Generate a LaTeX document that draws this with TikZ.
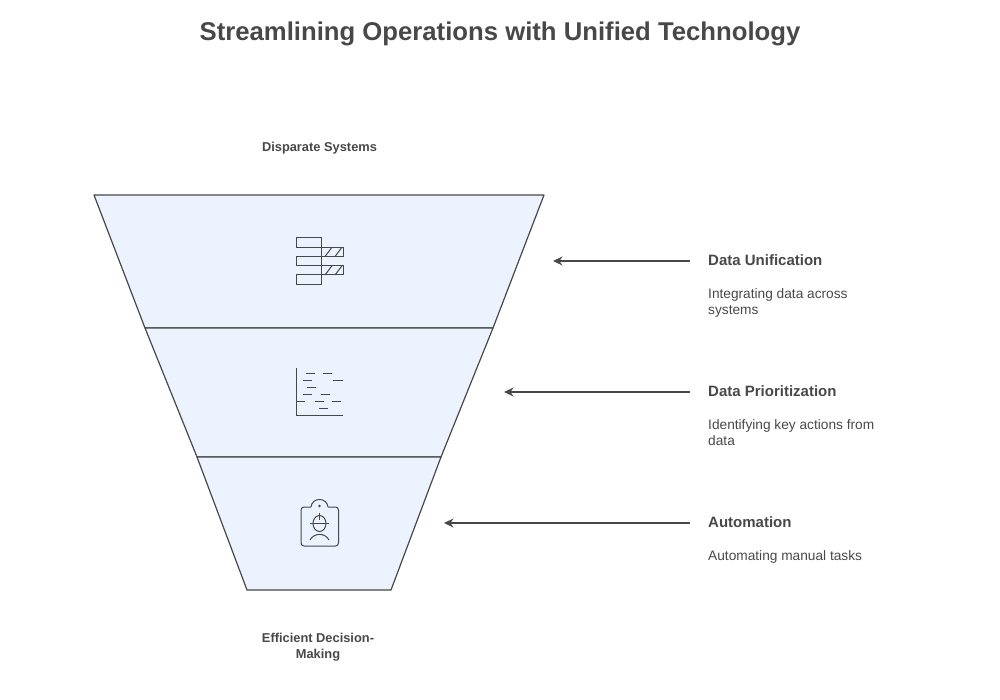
\documentclass[tikz,border=0pt]{standalone}
\usepackage{fontspec}
\setmainfont{Liberation Sans}
\usetikzlibrary{arrows.meta}
\definecolor{inkgrey}{HTML}{484848}
\definecolor{funnelblue}{HTML}{ECF3FF}
\begin{document}
\begin{tikzpicture}[
    x=1pt, y=-1pt,
    funnel part/.style={draw=inkgrey, fill=funnelblue, line width=1.2pt, line join=round},
    icon line/.style={draw=inkgrey, line width=1pt},
    pointer/.style={draw=inkgrey, line width=1.2pt, -{Stealth[length=9.5pt,width=9pt]}},
    step title/.style={anchor=west, text=inkgrey, inner sep=0pt, font=\bfseries\fontsize{15}{18}\selectfont},
    step text/.style={anchor=north west, text=inkgrey, align=left, inner sep=0pt, font=\fontsize{13.7}{16.3}\selectfont},
    end label/.style={text=inkgrey, align=center, inner sep=0pt, font=\bfseries\fontsize{12.85}{16.3}\selectfont},
]
\useasboundingbox (0,0) rectangle (1000,700);
\node[text=inkgrey, font=\bfseries\fontsize{25.7}{30}\selectfont] (title) at (500,33.5) {Streamlining Operations with Unified Technology};
\node[end label] (top label) at (319.5,148) {Disparate Systems};
\node[end label] (bottom label) at (318,647.5) {Efficient Decision-\\Making};
% funnel
\path[funnel part] (94,195) -- (544,195) -- (493,328) -- (145,328) -- cycle;
\path[funnel part] (145,328) -- (493,328) -- (441,457) -- (197,457) -- cycle;
\path[funnel part] (197,457) -- (441,457) -- (391,590) -- (247,590) -- cycle;
% first icon
\foreach \y in {238,256.5,275} \path[icon line] (296,\y) rectangle (321,\y+9.25);
\foreach \y in {247.25,265.75} {
    \path[icon line] (321,\y) rectangle (343,\y+9.25);
    \foreach \x in {325,335} \path[icon line] (\x,\y+9.25) -- (\x+7,\y);
}
% second icon
\path[icon line] (296,368) -- (296,415) -- (343,415);
\foreach \xa/\xb/\y in {305.5/315/373, 323/332/373, 303/312/380, 333/343/380, 307/316/387, 303/312/394, 321/330/394, 296/305/401.5, 315/324/401.5, 332/341/401.5, 319/328/408.5}
    \path[icon line] (\xa,\y) -- (\xb,\y);
% third icon
\path[icon line, rounded corners=3pt] (311,507) -- (301,507) -- (301,546) -- (338.5,546) -- (338.5,507) -- (328,507);
\path[icon line] (311,507) .. controls (312,497) and (327,497) .. (328,507);
\fill[inkgrey] (319.5,506) circle (1.3pt);
\path[icon line] (319.5,523.5) ellipse (6.5pt and 8pt);
\path[icon line] (310,523.5) -- (329,523.5) (319.5,513) -- (319.5,520);
\path[icon line] (310,540) .. controls (314,532.5) and (325,532.5) .. (329,540);
% steps
\node[step title] (unification) at (708,260.5) {Data Unification};
\node[step text] (unification text) at (708,288) {Integrating data across\\systems};
\node[step title] (prioritization) at (708,391.5) {Data Prioritization};
\node[step text] (prioritization text) at (708,419) {Identifying key actions from\\data};
\node[step title] (automation) at (708,522.5) {Automation};
\node[step text] (automation text) at (708,550) {Automating manual tasks};
\coordinate (unification start) at (690,261);
\coordinate (unification end) at (553,261);
\coordinate (prioritization start) at (690,392);
\coordinate (prioritization end) at (504,392);
\coordinate (automation start) at (690,523);
\coordinate (automation end) at (444,523);
\draw[pointer] (unification start) -- (unification end);
\draw[pointer] (prioritization start) -- (prioritization end);
\draw[pointer] (automation start) -- (automation end);
\end{tikzpicture}
\end{document}
